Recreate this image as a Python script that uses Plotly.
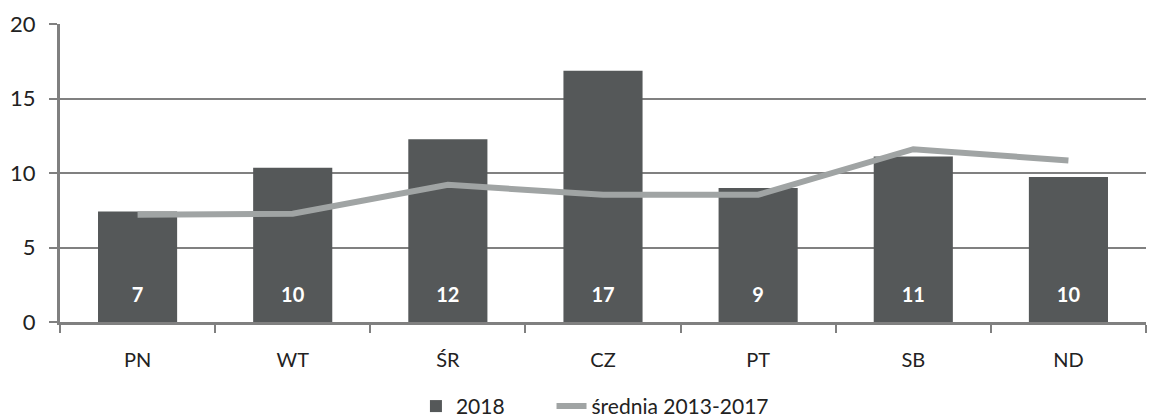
import plotly.graph_objects as go

days = ["PN", "WT", "ŚR", "CZ", "PT", "SB", "ND"]
values_2018 = [7.42, 10.35, 12.27, 16.86, 9.0, 11.1, 9.73]
avg_2013_2017 = [7.2, 7.27, 9.21, 8.54, 8.54, 11.6, 10.84]
labels_2018 = [str(round(v)) for v in values_2018]
LABEL_Y = 1.65  # data-unit height of in-bar labels

FONT = "Lato, Open Sans, sans-serif"
fig = go.Figure()
fig.add_trace(go.Bar(
    x=days, y=values_2018, name="2018",
    marker=dict(color="#555859", line=dict(width=0)),
    width=0.51, legend="legend",
))
fig.add_trace(go.Scatter(
    x=days, y=avg_2013_2017, name="średnia 2013-2017", mode="lines",
    line=dict(color="#a0a4a4", width=6), legend="legend2",
))
fig.add_trace(go.Scatter(
    x=days, y=[LABEL_Y] * len(days), mode="text", text=labels_2018,
    textfont=dict(color="white", size=20, family=FONT, weight="bold"),
    showlegend=False, hoverinfo="skip",
))
leg_common = dict(orientation="h", xanchor="left", xref="container", yref="container",
                  y=0.03, yanchor="middle", font=dict(size=21))
fig.update_layout(
    width=1149, height=419,
    margin=dict(l=60, r=3, t=24, b=97, autoexpand=False),
    plot_bgcolor="white", paper_bgcolor="white",
    font=dict(family=FONT, size=21, color="#222"),
    showlegend=True,
    legend=dict(x=0.362, **leg_common),
    legend2=dict(x=0.480, **leg_common),
    xaxis=dict(showline=True, linecolor="#808080", linewidth=3, ticks="outside",
               tickson="boundaries", ticklen=8, tickwidth=2, tickcolor="#808080",
               tickfont=dict(size=20), showgrid=False, ticklabelstandoff=18,
               automargin=False),
    yaxis=dict(range=[0, 20], tickvals=[0, 5, 10, 15, 20], showline=True,
               linecolor="#808080", linewidth=3, ticks="outside", ticklen=8,
               tickwidth=2, tickcolor="#808080", gridcolor="#808080", gridwidth=2,
               zeroline=False, tickfont=dict(size=22), ticklabelstandoff=9,
               automargin=False),
)
fig.write_html("out.html", post_script="document.body.style.margin='0';",
               config={"displayModeBar": False})
